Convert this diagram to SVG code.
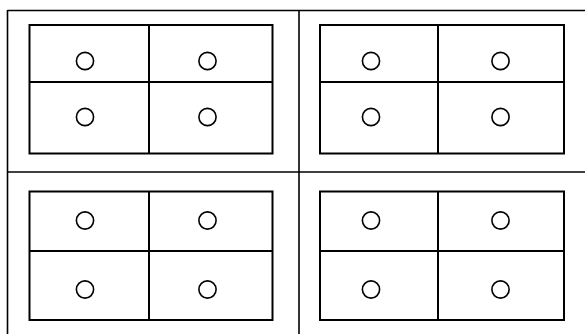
<svg xmlns="http://www.w3.org/2000/svg" width="585" height="334" viewBox="0 0 585 334">
<style>
.frame{stroke:#000;stroke-width:1.6;fill:none}
.box{stroke:#000;stroke-width:2;fill:none}
.dot{stroke:#000;stroke-width:1.6;fill:none}
</style>
<rect width="585" height="334" fill="#fff"/>
<g id="frame">
<line class="frame" x1="7.5" y1="10.5" x2="585" y2="10.5"/>
<line class="frame" x1="7.5" y1="10" x2="7.5" y2="334"/>
<line class="frame" x1="299" y1="10" x2="299" y2="334"/>
<line class="frame" x1="7.5" y1="172" x2="585" y2="172"/>
</g>
<g id="box-tl">
<rect class="box" x="29.5" y="25" width="243" height="128.5"/>
<line class="box" x1="149" y1="25" x2="149" y2="153.5"/>
<line class="box" x1="29.5" y1="82" x2="272.5" y2="82"/>
<circle class="dot" cx="85" cy="61" r="8.6"/>
<circle class="dot" cx="207.5" cy="61" r="8.6"/>
<circle class="dot" cx="85" cy="117" r="8.6"/>
<circle class="dot" cx="207.5" cy="117" r="8.6"/>
</g>
<g id="box-tr">
<rect class="box" x="320" y="25" width="244" height="128.5"/>
<line class="box" x1="438" y1="25" x2="438" y2="153.5"/>
<line class="box" x1="320" y1="82" x2="564" y2="82"/>
<circle class="dot" cx="371" cy="61" r="8.6"/>
<circle class="dot" cx="500.5" cy="61" r="8.6"/>
<circle class="dot" cx="371" cy="117" r="8.6"/>
<circle class="dot" cx="500.5" cy="117" r="8.6"/>
</g>
<g id="box-bl">
<rect class="box" x="29.5" y="191.5" width="243" height="128.5"/>
<line class="box" x1="149" y1="191.5" x2="149" y2="320"/>
<line class="box" x1="29.5" y1="251" x2="272.5" y2="251"/>
<circle class="dot" cx="85" cy="220.5" r="8.6"/>
<circle class="dot" cx="207.5" cy="220.5" r="8.6"/>
<circle class="dot" cx="85" cy="289.5" r="8.6"/>
<circle class="dot" cx="207.5" cy="289.5" r="8.6"/>
</g>
<g id="box-br">
<rect class="box" x="320" y="191.5" width="244" height="128.5"/>
<line class="box" x1="438" y1="191.5" x2="438" y2="320"/>
<line class="box" x1="320" y1="251" x2="564" y2="251"/>
<circle class="dot" cx="371" cy="220.5" r="8.6"/>
<circle class="dot" cx="500.5" cy="220.5" r="8.6"/>
<circle class="dot" cx="371" cy="289.5" r="8.6"/>
<circle class="dot" cx="500.5" cy="289.5" r="8.6"/>
</g>
</svg>
